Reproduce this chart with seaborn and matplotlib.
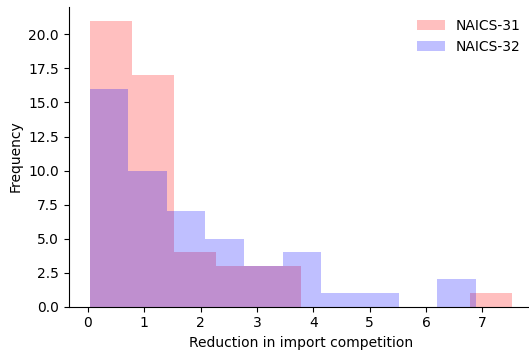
import matplotlib
matplotlib.use("Agg")
import matplotlib.pyplot as plt
import seaborn as sns

# bin edges and counts
edges_31 = [0.03, 0.78, 1.53, 2.28, 3.03, 3.78, 4.53, 5.28, 6.03, 6.78, 7.53]
counts_31 = [21, 17, 4, 3, 3, 0, 0, 0, 0, 1]

edges_32 = [0.03, 0.715, 1.40, 2.085, 2.77, 3.455, 4.14, 4.825, 5.51, 6.195, 6.88]
counts_32 = [16, 10, 7, 5, 3, 4, 1, 1, 0, 2]


def centers(edges):
    return [(a + b) / 2 for a, b in zip(edges[:-1], edges[1:])]


fig = plt.figure(figsize=(5.29, 3.54), dpi=100)
ax = fig.add_axes([0.1295, 0.1336, 0.879, 0.848])

sns.histplot(x=centers(edges_31), weights=counts_31, bins=edges_31, color="red",
             alpha=0.25, edgecolor="none", linewidth=0, label="NAICS-31", ax=ax)
sns.histplot(x=centers(edges_32), weights=counts_32, bins=edges_32, color="blue",
             alpha=0.25, edgecolor="none", linewidth=0, label="NAICS-32", ax=ax)

ax.set_xlabel("Reduction in import competition")
ax.set_ylabel("Frequency")
ax.legend(frameon=False, loc="upper right")
sns.despine(ax=ax)

fig.savefig("out.png")
